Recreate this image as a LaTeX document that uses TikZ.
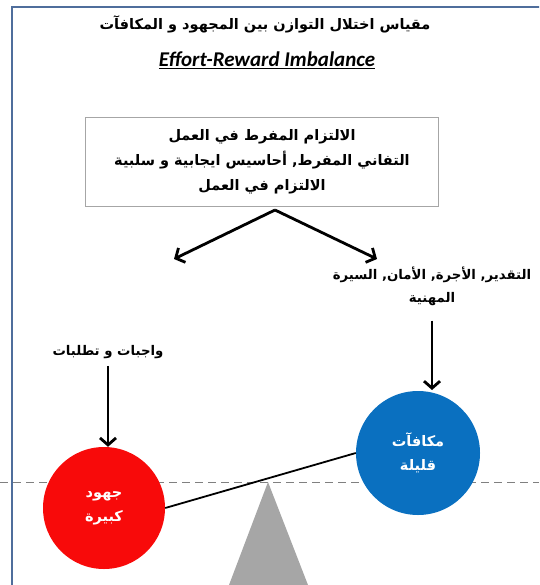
\documentclass[tikz,border=0pt]{standalone}
\usepackage{fontspec}
\setmainfont{Carlito}
\newfontfamily\arabicfont[Script=Arabic]{DejaVu Sans}
\TeXXeTstate=1
\usetikzlibrary{positioning,calc,arrows,arrows.meta}
\definecolor{framecol}{HTML}{4F6E9C}
\definecolor{boxgray}{HTML}{A6A6A6}
\definecolor{pivotgray}{HTML}{A6A6A6}
\definecolor{effortred}{HTML}{F80A0A}
\definecolor{rewardblue}{HTML}{0A70C0}
\def\AR#1{\beginR #1\endR}

\begin{document}
\begin{tikzpicture}[x=1pt,y=-1pt,
    ar/.style={font=\arabicfont\bfseries\fontsize{13.3}{23}\selectfont, align=center, inner sep=1pt},
    arr/.style={-{Straight Barb[length=7pt,width=16pt,line width=2.8pt]}, line width=2.8pt},
    ball/.style={circle, inner sep=0pt, minimum size=122, text=white, align=center,
      font=\arabicfont\bfseries\fontsize{14.5}{24}\selectfont}]
    \useasboundingbox (0,0) rectangle (539,585);
    \clip (0,0) rectangle (539,585);
    \draw[framecol, line width=1.5pt] (12,7) rectangle (570,610);
    % titles
    \node[ar, font=\arabicfont\bfseries\fontsize{14.5}{17}\selectfont] (title) at (265,24) {\AR{مقياس اختلال التوازن بين المجهود و المكافآت}};
    \node[font=\bfseries\itshape\fontsize{21}{24}\selectfont] (sub) at (267,60) {\underline{Effort-Reward Imbalance}};
    % commitment box
    \node[ar, draw=boxgray, line width=1.5pt, minimum width=353, minimum height=89,
      font=\arabicfont\bfseries\fontsize{14.5}{25}\selectfont] (box) at (262,162)
      {\AR{الالتزام المفرط في العمل}\\ \AR{التفاني المفرط, أحاسيس  ايجابية و سلبية}\\ \AR{الالتزام في العمل}};
    \coordinate (split) at (275,210);
    \coordinate (toL) at (174,259);
    \coordinate (toR) at (377,259);
    \draw[arr] (split) -- (toL);
    \draw[arr] (split) -- (toR);
    % labels
    \node[ar] (lblR) at (432,286) {\AR{التقدير, الأجرة, الأمان, السيرة}\\ \AR{المهنية}};
    \node[ar] (lblL) at (108,352) {\AR{واجبات و تطلبات}};
    % balance
    \coordinate (dashL) at (0,482);
    \coordinate (dashR) at (539,482);
    \draw[gray, line width=1pt, dash pattern=on 8pt off 5pt] (dashL) -- (dashR);
    \coordinate (apex) at (268,482);
    \fill[pivotgray] (apex) -- (229,585) -- (308,585) -- cycle;
    \node[ball, fill=effortred] (effort) at (104,508) {\AR{جهود}\\ \AR{كبيرة}};
    \node[ball, fill=rewardblue, minimum size=124] (reward) at (418,453) {\AR{مكافآت}\\ \AR{قليلة}};
    \draw[line width=1.8pt] (effort.east) -- (reward.west);
    \draw[arr] ([yshift=-14pt]lblR.south -| 432,0) -- (432,390);
    \draw[arr] ([yshift=-6pt]lblL.south) -- (lblL.south |- effort.north);
\end{tikzpicture}
\end{document}
